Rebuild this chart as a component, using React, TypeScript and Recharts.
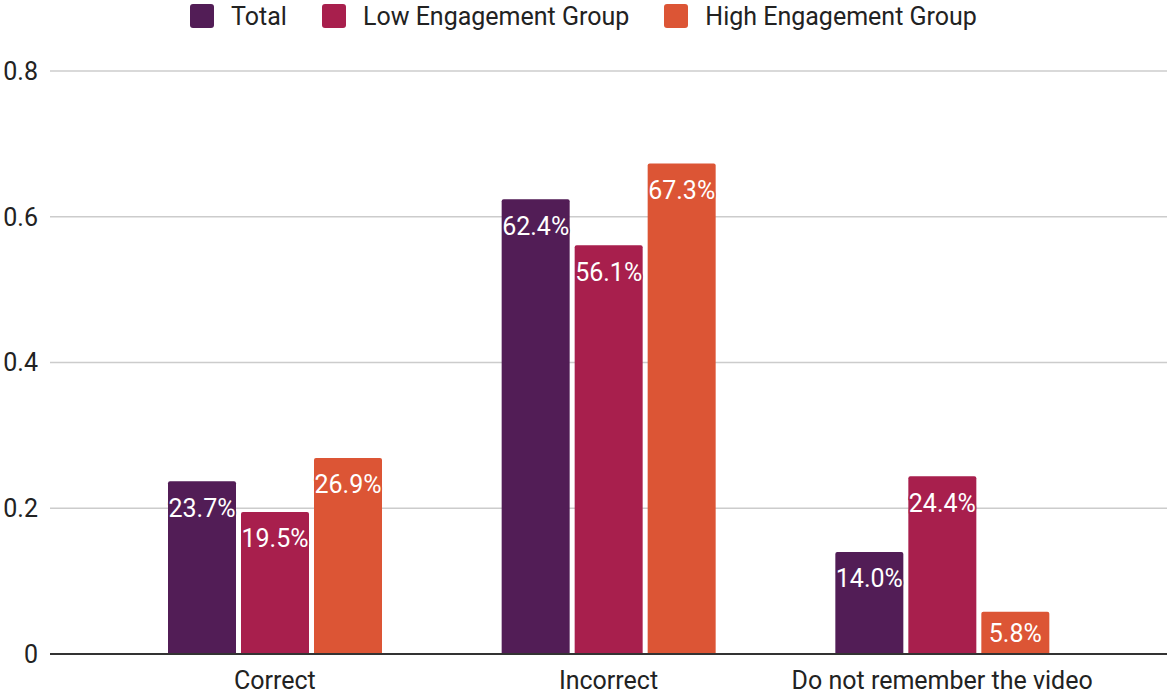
import { BarChart, Bar, XAxis, YAxis, CartesianGrid, Legend, LabelList } from "recharts";

const categories = ["Correct", "Incorrect", "Do not remember the video"];
const totalValues = [0.237, 0.624, 0.14];
const lowValues = [0.195, 0.561, 0.244];
const highValues = [0.269, 0.673, 0.058];
const yTicks = [0, 0.2, 0.4, 0.6, 0.8];

const series = [
  { key: "total", name: "Total", color: "#521d56" },
  { key: "low", name: "Low Engagement Group", color: "#a81f4d" },
  { key: "high", name: "High Engagement Group", color: "#dc5535" },
];

const data = categories.map((name, i) => ({
  name,
  total: totalValues[i],
  low: lowValues[i],
  high: highValues[i],
}));

const FONT = "Roboto, 'Noto Sans', sans-serif";
const FS = 25;

const makeLabel = (color: string) => (props: any) => {
  const { x, y, width, height, value } = props;
  const dy = Math.min(27, height / 2 + 1);
  return (
    <text
      x={Number(x) + Number(width) / 2}
      y={Number(y) + dy}
      textAnchor="middle"
      dominantBaseline="central"
      fontSize={FS}
      fontFamily={FONT}
      fill="#ffffff"
      stroke={color}
      strokeWidth={3}
      paintOrder="stroke"
    >
      {(Number(value) * 100).toFixed(1)}%
    </text>
  );
};

const renderLegend = () => (
  <div
    style={{
      display: "flex",
      justifyContent: "center",
      alignItems: "center",
      fontFamily: FONT,
      fontSize: FS,
      color: "#222",
      height: 32,
    }}
  >
    {series.map((s, i) => (
      <div key={s.key} style={{ display: "flex", alignItems: "center", marginLeft: i === 0 ? 0 : 35 }}>
        <span
          style={{
            display: "inline-block",
            width: 24,
            height: 24,
            borderRadius: 3,
            background: s.color,
            marginRight: 17,
          }}
        />
        <span>{s.name}</span>
      </div>
    ))}
  </div>
);

export default function App() {
  return (
    <div style={{ position: "fixed", left: 0, top: 0, background: "#fff" }}>
      <BarChart
        width={1167}
        height={694}
        data={data}
        margin={{ top: 39, right: 0, bottom: 10, left: 0 }}
        barCategoryGap="18%"
        barGap={5}
      >
        <CartesianGrid vertical={false} stroke="#cccccc" strokeWidth={1.5} />
        <XAxis
          dataKey="name"
          padding={{ left: 58, right: 58 }}
          tickLine={false}
          axisLine={{ stroke: "#333", strokeWidth: 2 }}
          tick={{ fontSize: FS, fill: "#222", fontFamily: FONT }}
          tickMargin={11}
          interval={0}
        />
        <YAxis
          domain={[0, 0.8]}
          ticks={yTicks}
          width={50}
          tickLine={false}
          axisLine={false}
          tick={{ fontSize: FS, fill: "#222", fontFamily: FONT }}
          tickMargin={6}
        />
        <Legend verticalAlign="top" align="center" height={32} wrapperStyle={{ top: 0 }} content={renderLegend} />
        {series.map((s) => (
          <Bar
            key={s.key}
            dataKey={s.key}
            name={s.name}
            fill={s.color}
            barSize={68}
            radius={[2, 2, 0, 0]}
            isAnimationActive={false}
          >
            <LabelList dataKey={s.key} content={makeLabel(s.color)} />
          </Bar>
        ))}
      </BarChart>
    </div>
  );
}
